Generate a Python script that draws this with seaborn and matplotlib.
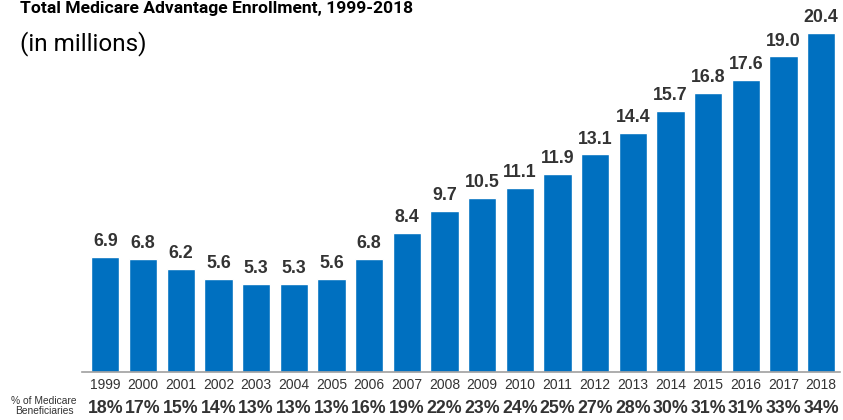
import matplotlib
matplotlib.use("Agg")
import matplotlib.pyplot as plt
import seaborn as sns
import pandas as pd

years = [str(y) for y in range(1999, 2019)]
enrollment = [6.9, 6.8, 6.2, 5.6, 5.3, 5.3, 5.6, 6.8, 8.4, 9.7, 10.5, 11.1, 11.9, 13.1, 14.4, 15.7, 16.8, 17.6, 19.0, 20.4]
pct_beneficiaries = ["18%", "17%", "15%", "14%", "13%", "13%", "13%", "16%", "19%", "22%",
                     "23%", "24%", "25%", "27%", "28%", "30%", "31%", "31%", "33%", "34%"]

df = pd.DataFrame({"year": years, "enrollment": enrollment})

sns.set_style("white")
plt.rcParams["font.family"] = ["Liberation Sans", "DejaVu Sans"]

fig = plt.figure(figsize=(8.43, 4.20), dpi=100)
ax = fig.add_axes([82/843, 48/420, (840-82)/843, 372/420])

sns.barplot(data=df, x="year", y="enrollment", color="#0070C0", saturation=1, width=0.75, ax=ax)

ax.set_xlim(-0.62, 19.5)
ax.set_ylim(0, 22.4)
ax.set_xlabel("")
ax.set_ylabel("")
ax.set_yticks([])
for s in ["top", "right", "left"]:
    ax.spines[s].set_visible(False)
ax.spines["bottom"].set_color("#a0a0a0")
ax.spines["bottom"].set_linewidth(1.2)
ax.tick_params(axis="x", length=0, pad=4, labelsize=10, labelcolor="#333333")

for i, v in enumerate(enrollment):
    ax.annotate(f"{v:.1f}", (i, v), xytext=(0, 5), textcoords="offset points",
                ha="center", va="bottom", fontsize=12.8, fontweight="bold", color="#333333")

for i, p in enumerate(pct_beneficiaries):
    ax.text(i, -28/372, p, transform=ax.get_xaxis_transform(), ha="center", va="top",
            fontsize=12.8, fontweight="bold", color="#333333")

fig.text(44/843, 1 - 406/420, "% of Medicare\nBeneficiaries", ha="center", va="center",
         fontsize=7.4, color="#333333", linespacing=1.05)

fig.text(20/843, 1 - 1/420, "Total Medicare Advantage Enrollment, 1999-2018", ha="left", va="top",
         fontsize=12.6, fontweight="bold", color="black", family=["Roboto", "DejaVu Sans"])
fig.text(20/843, 1 - 31/420, "(in millions)", ha="left", va="top",
         fontsize=17.5, color="black", family=["Roboto", "DejaVu Sans"])

fig.savefig("out.png", dpi=100)
